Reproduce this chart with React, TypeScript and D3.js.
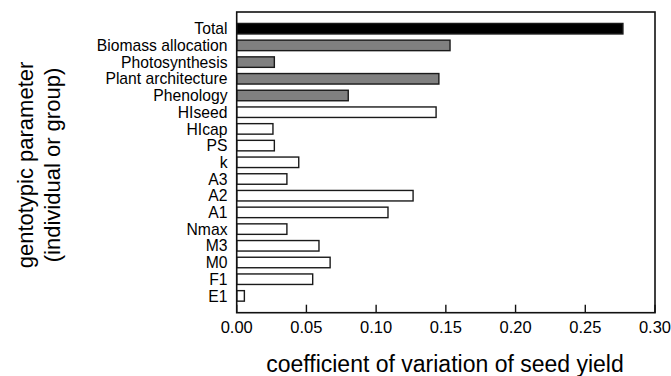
import React from "react";
import * as d3 from "d3";

const categories = ["Total","Biomass allocation","Photosynthesis","Plant architecture","Phenology","HIseed","HIcap","PS","k","A3","A2","A1","Nmax","M3","M0","F1","E1"];
const values = [0.277,0.153,0.027,0.145,0.080,0.143,0.026,0.027,0.0445,0.036,0.1265,0.1085,0.036,0.059,0.067,0.0545,0.0055];
const groups = ["total","group","group","group","group","ind","ind","ind","ind","ind","ind","ind","ind","ind","ind","ind","ind"];
const xTicks = [0,0.05,0.1,0.15,0.2,0.25,0.3];

const fills: Record<string,string> = { total: "#000000", group: "#808080", ind: "#ffffff" };

export default function App() {
  const W = 671, H = 376;
  const left = 236.7, right = 655, top = 12, bottom = 312.7;
  const x = d3.scaleLinear().domain([0, 0.3]).range([left, right]);
  const y = d3.scaleLinear().domain([0, categories.length - 1]).range([28.7, 295.9]);
  const bh = 10.5;
  const font = "Arial, 'Liberation Sans', sans-serif";
  return (
    <svg width={W} height={H} style={{ position: "absolute", left: 0, top: 0 }} fontFamily={font}>
      <rect x={0} y={0} width={W} height={H} fill="#fff" />
      {categories.map((c, i) => (
        <g key={c}>
          <rect x={x(0)} y={y(i) - bh / 2} width={x(values[i]) - x(0)} height={bh}
            fill={fills[groups[i]]} stroke="#1a1a1a" strokeWidth={1.4} />
          <text x={227.5} y={y(i)} dy="0.36em" textAnchor="end" fontSize={15.7} fill="#000">{c}</text>
        </g>
      ))}
      <rect x={left} y={top} width={right - left} height={bottom - top} fill="none" stroke="#111" strokeWidth={1.6} />
      {xTicks.map(t => (
        <g key={t}>
          <line x1={x(t)} x2={x(t)} y1={bottom} y2={bottom - 8} stroke="#111" strokeWidth={1.4} />
          <text x={x(t)} y={333} textAnchor="middle" fontSize={16.5} fill="#000">{d3.format(".2f")(t)}</text>
        </g>
      ))}
      <text x={445} y={372} textAnchor="middle" fontSize={23} fill="#000">coefficient of variation of seed yield</text>
      <g transform="translate(33,165) rotate(-90)">
        <text x={0} y={0} textAnchor="middle" fontSize={22} fill="#000">gentotypic parameter</text>
        <text x={0} y={27} textAnchor="middle" fontSize={22} fill="#000">(individual or group)</text>
      </g>
    </svg>
  );
}
